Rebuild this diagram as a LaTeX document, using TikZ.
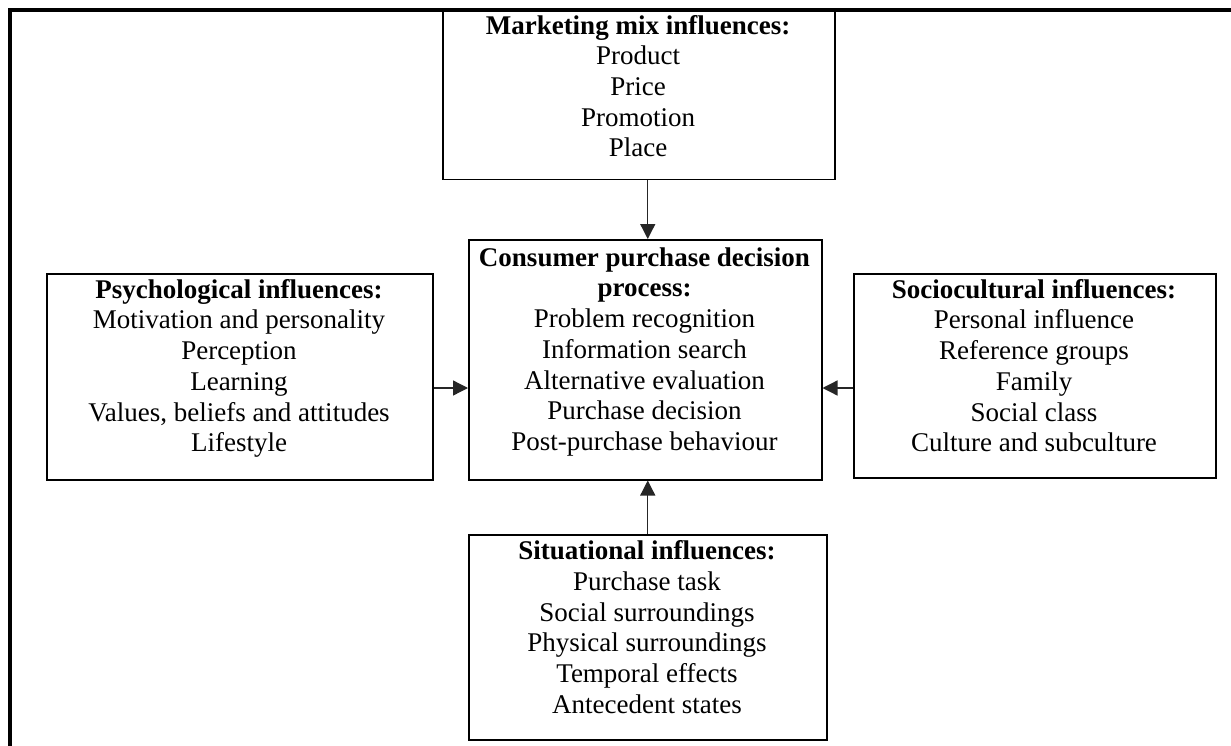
\documentclass[tikz,border=0pt]{standalone}
\usepackage{fontspec}
\setmainfont{Liberation Serif}
\usetikzlibrary{arrows.meta}
\begin{document}
\begin{tikzpicture}[x=1pt,y=-1pt,
  box/.style={draw, line width=1.5pt, inner sep=0pt, anchor=north west},
  txt/.style={anchor=north, inner sep=0pt, align=center, font=\fontsize{27}{30.7}\selectfont},
  arr/.style={line width=1.3pt, draw=black!85, -{Triangle[length=15pt,width=15pt]}},
  frame/.style={line width=4pt}]
\useasboundingbox (0,0) rectangle (1231,746);
% boxes
\node[box, minimum width=392pt, minimum height=169pt] (mm) at (442,10) {};
\node[box, minimum width=353pt, minimum height=240pt] (cp) at (468,239) {};
\node[box, minimum width=386pt, minimum height=206pt] (psy) at (46,273) {};
\node[box, minimum width=362pt, minimum height=204pt] (soc) at (853,273) {};
\node[box, minimum width=358pt, minimum height=205pt] (sit) at (468,534) {};
% texts
\node[txt] (mmt) at (638,12) {\rule{0pt}{22pt}\textbf{Marketing mix influences:}\\Product\\Price\\Promotion\\Place};
\node[txt] (cpt) at (644.5,244) {\rule{0pt}{22pt}\textbf{Consumer purchase decision}\\\textbf{process:}\\Problem recognition\\Information search\\Alternative evaluation\\Purchase decision\\Post-purchase behaviour};
\node[txt] (psyt) at (239,276) {\rule{0pt}{22pt}\textbf{Psychological influences:}\\Motivation and personality\\Perception\\Learning\\Values, beliefs and attitudes\\Lifestyle};
\node[txt] (soct) at (1034,276) {\rule{0pt}{22pt}\textbf{Sociocultural influences:}\\Personal influence\\Reference groups\\Family\\Social class\\Culture and subculture};
\node[txt] (sitt) at (647,537.5) {\rule{0pt}{22pt}\textbf{Situational influences:}\\Purchase task\\Social surroundings\\Physical surroundings\\Temporal effects\\Antecedent states};
% connectors
\coordinate (hy) at (0,388);
\draw[arr] (mm.south -| sit.north) -- (cp.north -| sit.north);
\draw[arr] (sit.north) -- (cp.south -| sit.north);
\draw[arr] (psy.east |- hy) -- (cp.west |- hy);
\draw[arr] (soc.west |- hy) -- (cp.east |- hy);
% outer frame
\coordinate (fb) at (10,746);
\coordinate (fc) at (10,10);
\coordinate (fr) at (1231,10);
\draw[frame] (fb) -- (fc) -- (fr);
\end{tikzpicture}
\end{document}
